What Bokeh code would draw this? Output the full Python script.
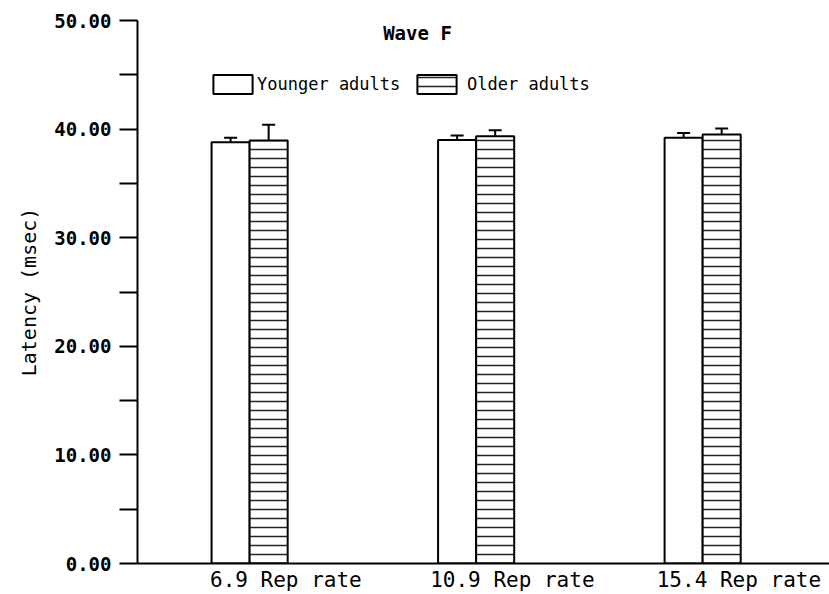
import numpy as np
from bokeh.plotting import figure
from bokeh.models import (ColumnDataSource, Range1d, FixedTicker, Whisker, TeeHead,
                          Legend, LegendItem, Label, CustomJSTickFormatter)
from bokeh.embed import file_html
from bokeh.resources import INLINE

# Mean wave F latency (msec) and error per repetition rate
rates = ["6.9", "10.9", "15.4"]
group_labels = ["6.9 Rep rate", "10.9 Rep rate", "15.4 Rep rate"]
younger = [38.8, 39.0, 39.2]
younger_err = [0.4, 0.4, 0.45]
older = [38.95, 39.35, 39.5]
older_err = [1.45, 0.55, 0.55]
y_ticks = [0, 10, 20, 30, 40, 50]

FONT = "DejaVu Sans Mono"
BAR_W = 0.168

x = np.arange(len(rates), dtype=float)
young_src = ColumnDataSource(dict(
    x=x - BAR_W / 2, top=younger,
    upper=np.array(younger) + np.array(younger_err),
    lower=np.array(younger) - np.array(younger_err)))
old_src = ColumnDataSource(dict(
    x=x + BAR_W / 2, top=older,
    upper=np.array(older) + np.array(older_err),
    lower=np.array(older) - np.array(older_err)))

p = figure(width=829, height=594, output_backend="svg", toolbar_location=None,
           x_range=Range1d(-0.495, 2.56), y_range=Range1d(0, 50),
           min_border_left=137, min_border_right=0, min_border_top=20,
           min_border_bottom=30)
p.outline_line_color = None
p.grid.visible = False
p.background_fill_color = "white"
p.border_fill_color = "white"

r_young = p.vbar(x="x", top="top", bottom=0, width=BAR_W, source=young_src,
                 fill_color="white", line_color="black", line_width=2)
r_old = p.vbar(x="x", top="top", bottom=0, width=BAR_W, source=old_src,
               fill_color="white", line_color="black", line_width=2,
               hatch_pattern="horizontal_line", hatch_scale=9,
               hatch_weight=1.5, hatch_color="#222222")

for src in (young_src, old_src):
    w = Whisker(base="x", upper="upper", lower="lower", source=src,
                dimension="height", line_width=2, line_color="black",
                upper_head=TeeHead(size=13, line_width=2, line_color="black"),
                lower_head=TeeHead(size=13, line_width=2, line_color="black"))
    p.add_layout(w)

# y axis
ya = p.yaxis[0]
ya.ticker = FixedTicker(ticks=y_ticks, minor_ticks=[5, 15, 25, 35, 45])
ya.formatter = CustomJSTickFormatter(code="return tick.toFixed(2);")
ya.axis_line_width = 2
ya.major_tick_line_width = 2
ya.minor_tick_line_width = 2
ya.major_tick_out = 18
ya.major_tick_in = 0
ya.minor_tick_out = 18
ya.minor_tick_in = 0
ya.major_label_standoff = 8
ya.major_label_text_font = FONT
ya.major_label_text_font_style = "bold"
ya.major_label_text_font_size = "19px"
ya.major_label_text_color = "black"
ya.axis_label = "Latency (msec)"
ya.axis_label_standoff = 10
ya.axis_label_text_font = FONT
ya.axis_label_text_font_style = "normal"
ya.axis_label_text_font_size = "20px"
ya.axis_label_text_color = "black"

# x axis: one label per repetition rate, under each pair of bars
xa = p.xaxis[0]
label_pos = list(x + 0.16)
xa.ticker = FixedTicker(ticks=label_pos)
xa.major_label_overrides = {float(t): s for t, s in zip(label_pos, group_labels)}
xa.axis_line_width = 2
xa.major_tick_line_color = None
xa.minor_tick_line_color = None
xa.major_tick_out = 0
xa.major_tick_in = 0
xa.major_label_standoff = 4
xa.major_label_text_font = FONT
xa.major_label_text_font_size = "21px"
xa.major_label_text_color = "black"

p.add_layout(Label(x=280, y=531, x_units="screen", y_units="screen",
                   text="Wave F", text_align="center", text_baseline="middle",
                   text_font=FONT, text_font_style="bold",
                   text_font_size="19px", text_color="black"))

for label, rend, pos, standoff in (("Younger adults", r_young, (71, 467), 0),
                                   ("Older adults", r_old, (275, 467), 6)):
    lg = Legend(items=[LegendItem(label=label, renderers=[rend])],
                location=pos, orientation="horizontal",
                glyph_width=49, glyph_height=24, padding=0, margin=0,
                border_line_color=None, background_fill_alpha=0,
                label_standoff=standoff,
                label_text_font=FONT, label_text_font_size="17px",
                label_text_color="black")
    p.add_layout(lg)

open("out.html", "w").write(file_html(p, INLINE))
